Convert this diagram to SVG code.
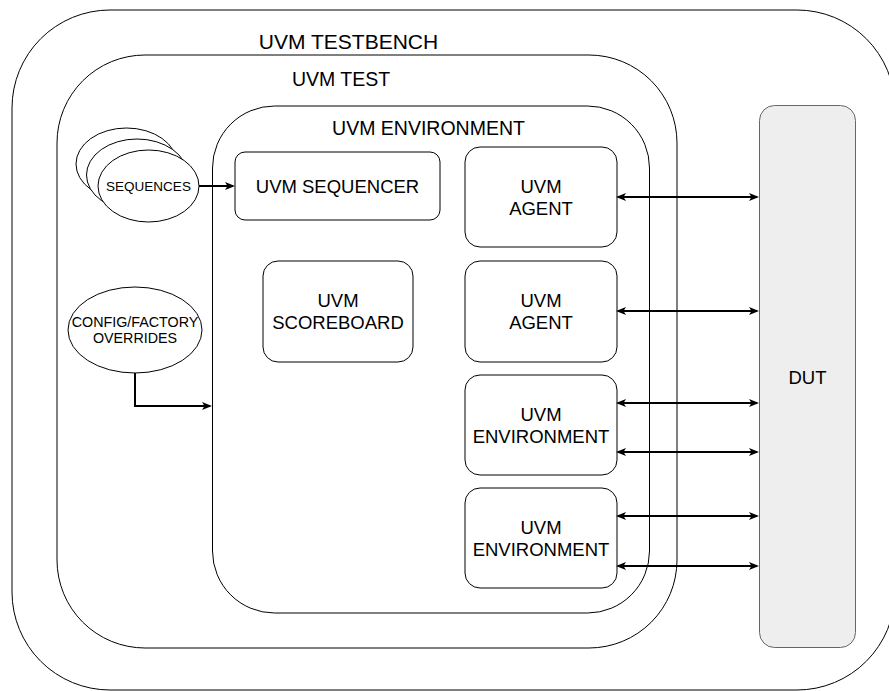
<svg xmlns="http://www.w3.org/2000/svg" width="889" height="691" viewBox="0 0 889 691">
  <defs>
    <marker id="arrow" viewBox="0 0 10 8" refX="8" refY="4" markerWidth="10" markerHeight="8" markerUnits="userSpaceOnUse" orient="auto-start-reverse">
      <path d="M0,0 L10,4 L0,8 L2.5,4 Z" fill="#000"/>
    </marker>
    <style>
      .frame { fill: none; stroke: #000; stroke-width: 1; }
      .box { fill: #fff; stroke: #000; stroke-width: 1; }
      .dut { fill: #eeeeee; stroke: #666666; stroke-width: 1; }
      .lbl { font-family: "Liberation Sans", Arial, sans-serif; fill: #000; text-anchor: middle; }
      .title { font-size: 19.5px; }
      .big { font-size: 21px; }
      .node { font-size: 18.5px; }
      .small { font-size: 13.5px; }
      .conf { font-size: 14.3px; }
      .wire { fill: none; stroke: #000; stroke-width: 2; }
    </style>
  </defs>

  <!-- nested containers -->
  <g id="testbench">
    <rect class="frame" x="12" y="10" width="883" height="680" rx="98" ry="98"/>
    <text class="lbl big" x="348.5" y="49">UVM TESTBENCH</text>
  </g>
  <g id="test">
    <rect class="frame" x="57" y="55" width="620" height="593" rx="88" ry="88"/>
    <text class="lbl title" x="341" y="86">UVM TEST</text>
  </g>
  <g id="environment">
    <rect class="frame" x="212.5" y="106" width="437" height="507" rx="62" ry="62"/>
    <text class="lbl title" x="428.5" y="135">UVM ENVIRONMENT</text>
  </g>

  <!-- stimulus sources -->
  <g id="sequences">
    <ellipse class="box" cx="126.5" cy="164" rx="50.5" ry="36"/>
    <ellipse class="box" cx="137" cy="175" rx="50.5" ry="36"/>
    <ellipse class="box" cx="148.5" cy="186" rx="50.5" ry="36"/>
    <text class="lbl small" x="148.5" y="190.5">SEQUENCES</text>
  </g>
  <g id="config">
    <ellipse class="box" cx="135" cy="330" rx="67" ry="43"/>
    <text class="lbl conf" x="135" y="327">CONFIG/FACTORY</text>
    <text class="lbl conf" x="135" y="343">OVERRIDES</text>
  </g>

  <!-- environment components -->
  <g id="sequencer">
    <rect class="box" x="235" y="152" width="205" height="68" rx="10" ry="10"/>
    <text class="lbl node" x="337.5" y="192.5">UVM SEQUENCER</text>
  </g>
  <g id="agent1">
    <rect class="box" x="465" y="147" width="152" height="100" rx="15" ry="15"/>
    <text class="lbl node" x="541" y="193">UVM</text>
    <text class="lbl node" x="541" y="215">AGENT</text>
  </g>
  <g id="scoreboard">
    <rect class="box" x="263" y="261" width="150" height="101" rx="15" ry="15"/>
    <text class="lbl node" x="338" y="307">UVM</text>
    <text class="lbl node" x="338" y="329">SCOREBOARD</text>
  </g>
  <g id="agent2">
    <rect class="box" x="465" y="261" width="152" height="101" rx="15" ry="15"/>
    <text class="lbl node" x="541" y="307">UVM</text>
    <text class="lbl node" x="541" y="329">AGENT</text>
  </g>
  <g id="env1">
    <rect class="box" x="465" y="375" width="152" height="100" rx="15" ry="15"/>
    <text class="lbl node" x="541" y="421">UVM</text>
    <text class="lbl node" x="541" y="443">ENVIRONMENT</text>
  </g>
  <g id="env2">
    <rect class="box" x="465" y="488" width="152" height="100" rx="15" ry="15"/>
    <text class="lbl node" x="541" y="534">UVM</text>
    <text class="lbl node" x="541" y="556">ENVIRONMENT</text>
  </g>

  <!-- device under test -->
  <g id="dut">
    <rect class="dut" x="759.5" y="105.5" width="96" height="542" rx="15" ry="15"/>
    <text class="lbl node" x="807.5" y="384">DUT</text>
  </g>

  <!-- connectors -->
  <g id="connectors">
    <path class="wire" d="M199,186 L233,186" marker-end="url(#arrow)"/>
    <path class="wire" d="M135,373 L135,406 L210,406" marker-end="url(#arrow)"/>
    <path class="wire" d="M618,197 L757,197" marker-start="url(#arrow)" marker-end="url(#arrow)"/>
    <path class="wire" d="M618,311 L757,311" marker-start="url(#arrow)" marker-end="url(#arrow)"/>
    <path class="wire" d="M618,403 L757,403" marker-start="url(#arrow)" marker-end="url(#arrow)"/>
    <path class="wire" d="M618,452 L757,452" marker-start="url(#arrow)" marker-end="url(#arrow)"/>
    <path class="wire" d="M618,516 L757,516" marker-start="url(#arrow)" marker-end="url(#arrow)"/>
    <path class="wire" d="M618,566 L757,566" marker-start="url(#arrow)" marker-end="url(#arrow)"/>
  </g>
</svg>
